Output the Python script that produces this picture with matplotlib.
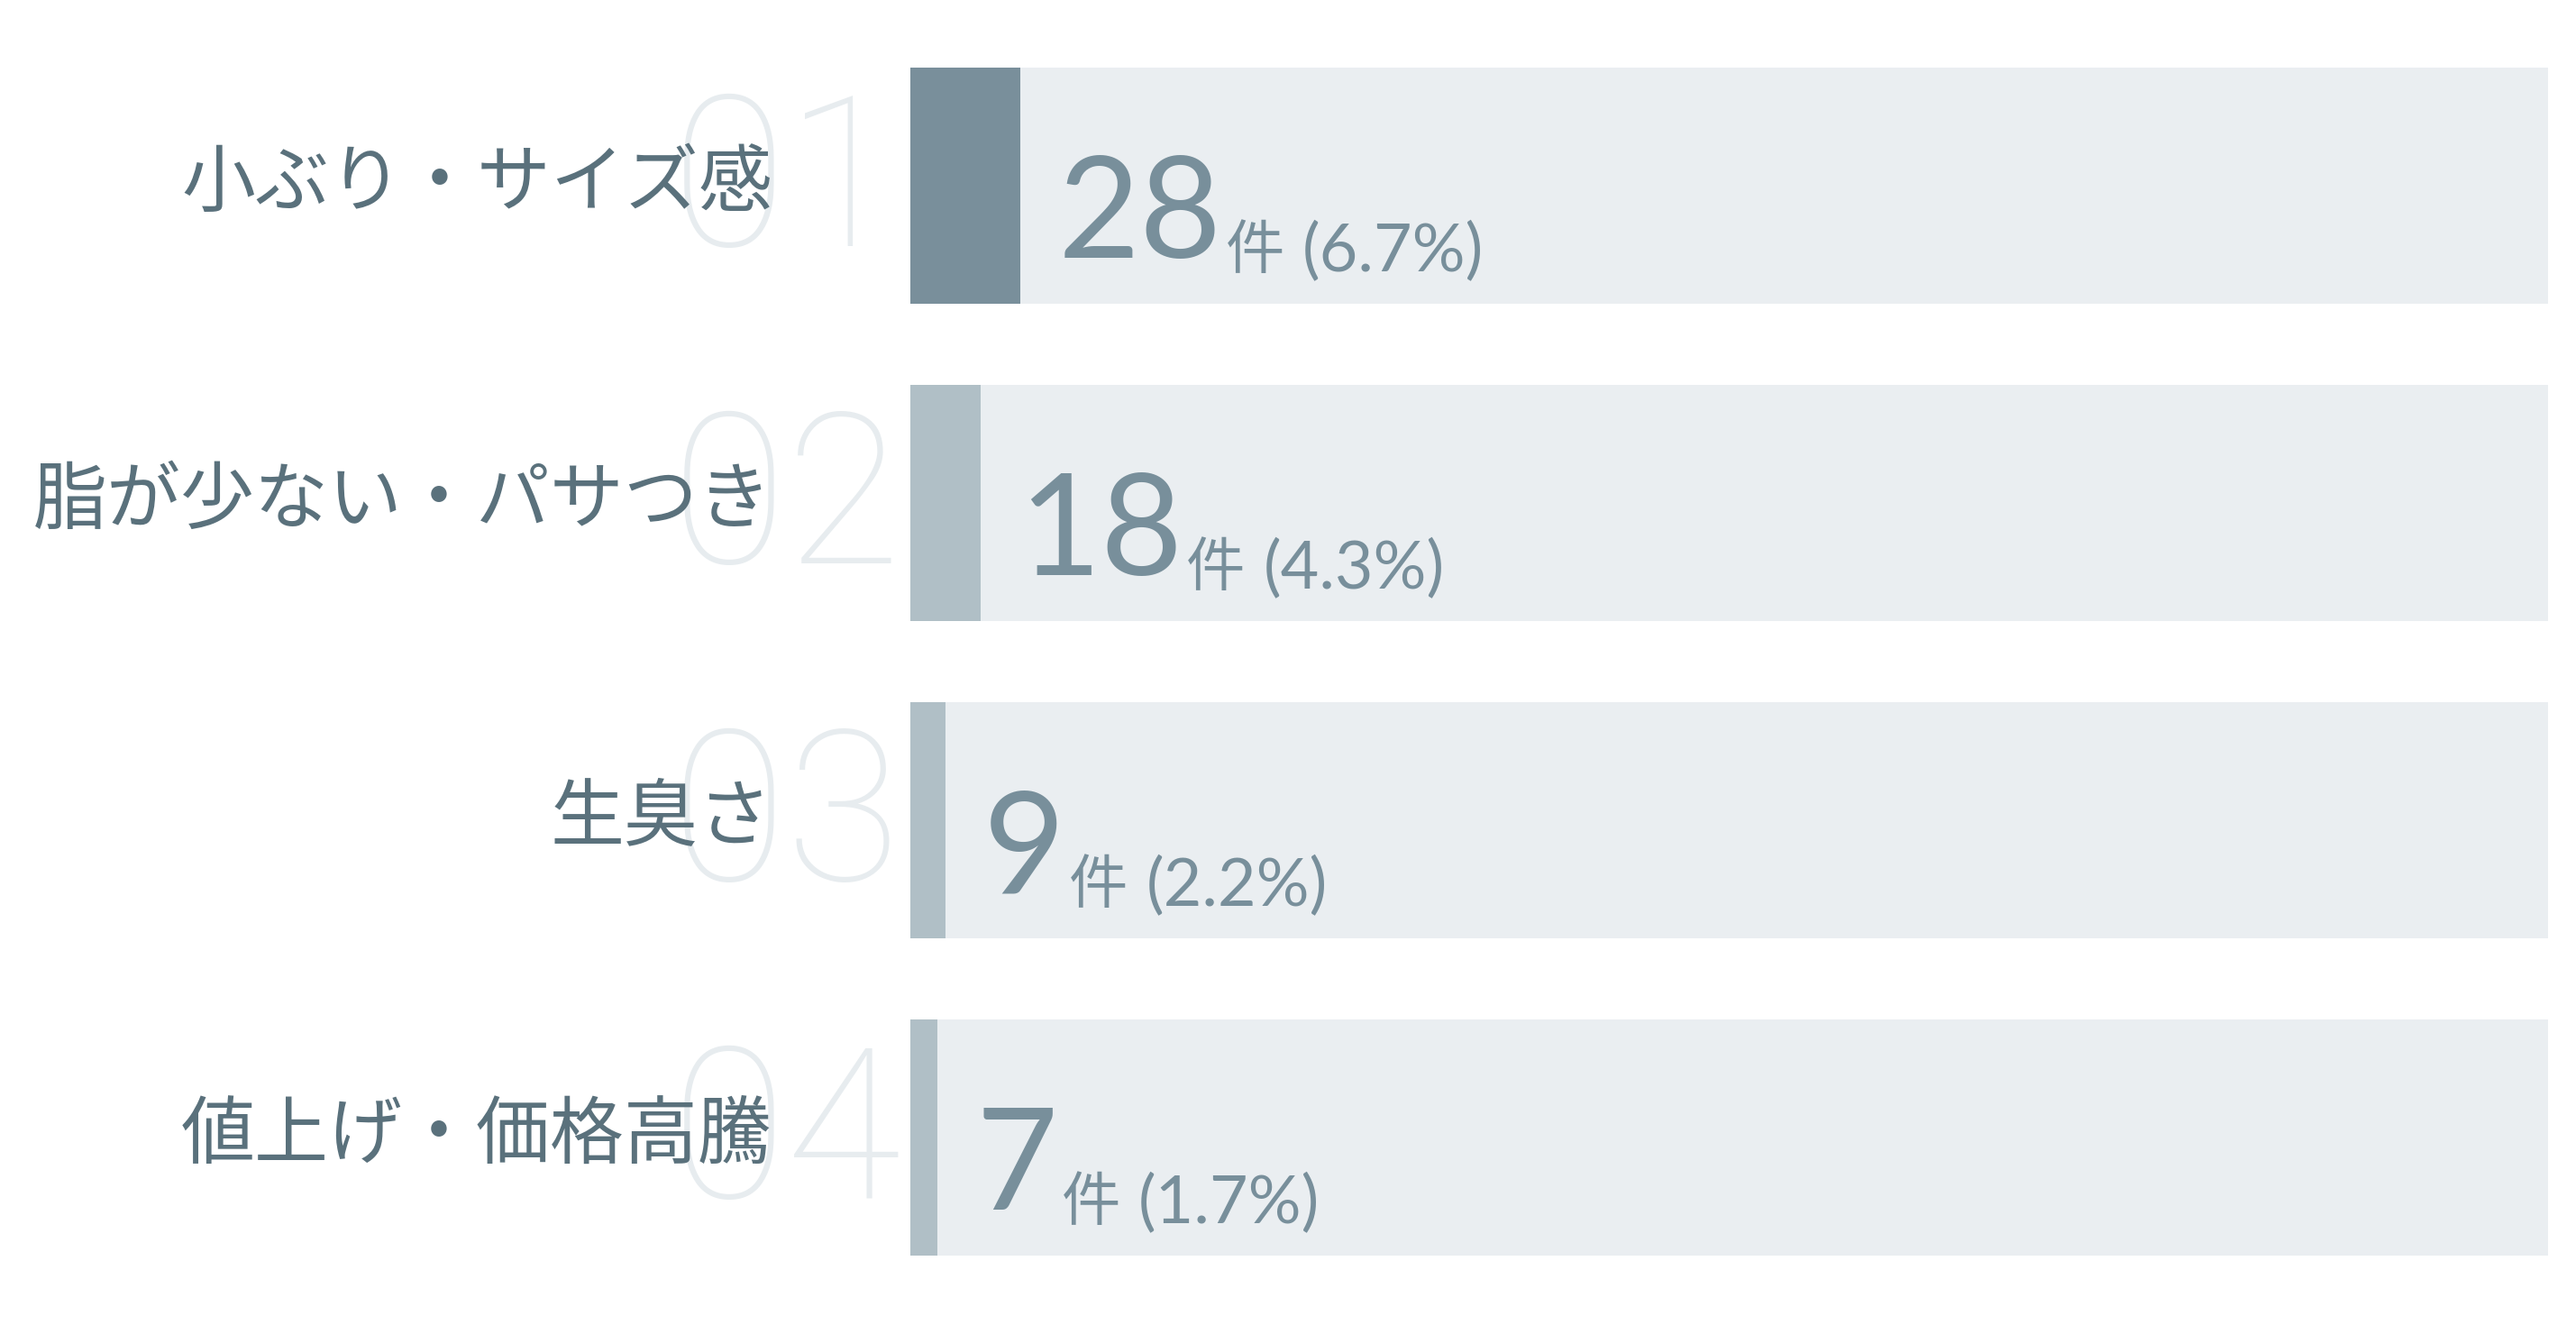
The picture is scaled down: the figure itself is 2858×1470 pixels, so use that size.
import matplotlib
matplotlib.use("Agg")
import matplotlib.pyplot as plt

labels = ["小ぶり・サイズ感", "脂が少ない・パサつき", "生臭さ", "値上げ・価格高騰"]
counts = [28, 18, 9, 7]
percents = ["6.7%", "4.3%", "2.2%", "1.7%"]
ranks = ["01", "02", "03", "04"]
unit = "件"
total = 418

W, H, DPI = 2858, 1470, 100
fig = plt.figure(figsize=(W / DPI, H / DPI), dpi=DPI)
fig.patch.set_facecolor("white")

ax = fig.add_axes([1010 / W, 0, 1817 / W, 1])
ax.set_xlim(0, total)
top_px, pitch_px = 206, 352
ax.set_ylim((H - top_px) / pitch_px, -top_px / pitch_px)
ax.axis("off")

PX = 72 / DPI  # points per pixel

bg_col = "#eaeef1"
first_col = "#798f9b"
other_col = "#b0bfc6"
label_col = "#5a717c"
value_col = "#788f9b"
rank_col = "#e7ecef"

bar_h = 262 / pitch_px
y = list(range(len(labels)))
ax.barh(y, [total] * len(y), height=bar_h, color=bg_col, zorder=1)
ax.barh(y, counts, height=bar_h,
        color=[first_col] + [other_col] * (len(y) - 1), zorder=2)

fig.canvas.draw()
renderer = fig.canvas.get_renderer()


def right_edge_data(artist):
    fig.canvas.draw()
    bb = artist.get_window_extent(renderer)
    return ax.transData.inverted().transform((bb.x1, 0))[0]


for i, (lab, c, p, r) in enumerate(zip(labels, counts, percents, ranks)):
    ax.annotate(r, xy=(0, i), xytext=(-10 * PX, -67 * PX), textcoords="offset points",
                ha="right", va="baseline", fontsize=168, color=rank_col,
                family=["Roboto", "DejaVu Sans"], fontweight="light", zorder=3,
                annotation_clip=False)
    ax.annotate(lab, xy=(0, i), xytext=(-153 * PX, 2 * PX), textcoords="offset points",
                ha="right", va="center", fontsize=59, color=label_col,
                family=["Noto Sans CJK JP", "DejaVu Sans"], zorder=4,
                annotation_clip=False)
    num = ax.annotate(str(c), xy=(c, i), xytext=(42 * PX, -80 * PX), textcoords="offset points",
                      ha="left", va="baseline", fontsize=113, color=value_col,
                      family=["Lato", "DejaVu Sans"], zorder=4, annotation_clip=False)
    xr = right_edge_data(num)
    u = ax.annotate(unit, xy=(xr, i), xytext=(4 * PX, -92 * PX),
                    textcoords="offset points", ha="left", va="baseline", fontsize=47,
                    color=value_col, family=["Noto Sans CJK JP", "DejaVu Sans"], zorder=4,
                    annotation_clip=False)
    xr2 = right_edge_data(u)
    ax.annotate(f"({p})", xy=(xr2, i), xytext=(20 * PX, -95 * PX),
                textcoords="offset points", ha="left", va="baseline", fontsize=53,
                color=value_col, family=["Lato", "DejaVu Sans"],
                zorder=4, annotation_clip=False)

fig.savefig("out.png", dpi=DPI, facecolor="white")
